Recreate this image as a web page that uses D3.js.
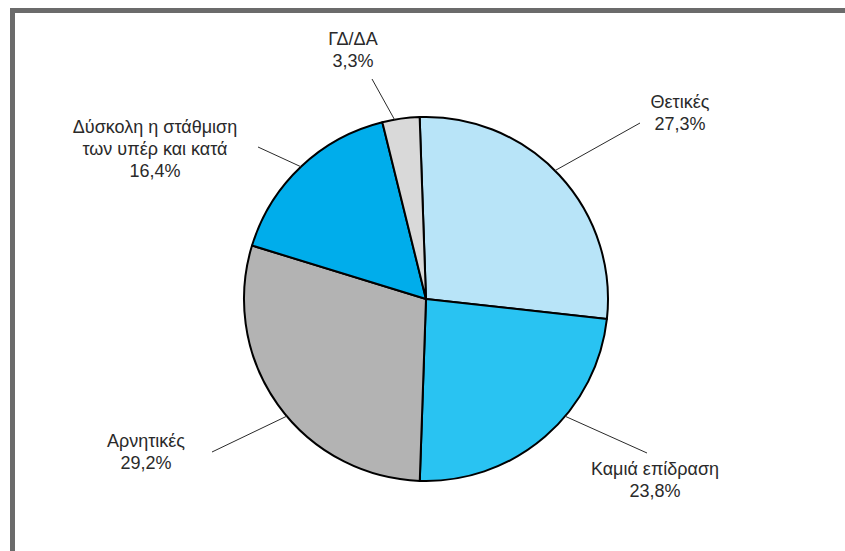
<!DOCTYPE html>
<html>
<head>
<meta charset="utf-8">
<script src="https://cdn.jsdelivr.net/npm/d3@7"></script>
<style>
  html, body { margin: 0; padding: 0; background: #fff; }
  svg { display: block; }
  text { font-family: "Liberation Sans", Arial, sans-serif; fill: #2a2a2a; }
</style>
</head>
<body>
<svg id="chart" width="845" height="551"></svg>
<script>
// ---- data ----
const categories = ["Θετικές", "Καμιά επίδραση", "Αρνητικές", "Δύσκολη η στάθμιση των υπέρ και κατά", "ΓΔ/ΔΑ"];
const labelLines = [["Θετικές"], ["Καμιά επίδραση"], ["Αρνητικές"], ["Δύσκολη η στάθμιση", "των υπέρ και κατά"], ["ΓΔ/ΔΑ"]];
const values = [27.3, 23.8, 29.2, 16.4, 3.3];
const valueLabels = ["27,3%", "23,8%", "29,2%", "16,4%", "3,3%"];

// ---- layout / style ----
const colors = ["#b8e4f8", "#29c3f2", "#b3b3b3", "#00adeb", "#d9d9d9"];
const W = 845, H = 551;
const cx = 426, cy = 299, R = 182;
const startDeg = -2.0;
// label anchor (center x, first baseline y) and leader-line end
const labelAnchor = [[680, 108], [655, 475], [146, 447], [155, 133], [353, 45]];
const leaderEnd = [[640, 123], [647, 453], [212, 452], [258, 147], [372, 79]];
const leaderShiftDeg = [-2, -9, -4.6, 0, -2];
const lineGap = 22;

const svg = d3.select("#chart");

// frame
svg.append("rect").attr("x", 10).attr("y", 8).attr("width", W - 10).attr("height", 5).attr("fill", "#6b6b6b");
svg.append("rect").attr("x", 10).attr("y", 8).attr("width", 5).attr("height", H - 8).attr("fill", "#6b6b6b");

const s0 = startDeg * Math.PI / 180;
const pie = d3.pie().sort(null).value(d => d).startAngle(s0).endAngle(s0 + 2 * Math.PI);
const arcs = pie(values);
const arc = d3.arc().innerRadius(0).outerRadius(R);

const g = svg.append("g").attr("transform", `translate(${cx},${cy})`);
g.selectAll("path.slice").data(arcs).enter().append("path")
  .attr("class", "slice")
  .attr("d", arc)
  .attr("fill", (d, i) => colors[i])
  .attr("stroke", "#000")
  .attr("stroke-width", 2)
  .attr("stroke-linejoin", "round");

// leader lines
arcs.forEach((d, i) => {
  const a = (d.startAngle + d.endAngle) / 2 + leaderShiftDeg[i] * Math.PI / 180;
  const x0 = cx + Math.sin(a) * R, y0 = cy - Math.cos(a) * R;
  svg.append("line")
    .attr("x1", x0).attr("y1", y0)
    .attr("x2", leaderEnd[i][0]).attr("y2", leaderEnd[i][1])
    .attr("stroke", "#2a2a2a").attr("stroke-width", 1);
});

// labels
arcs.forEach((d, i) => {
  const lines = labelLines[i].concat([valueLabels[i]]);
  const t = svg.append("text")
    .attr("text-anchor", "middle")
    .attr("font-size", 18);
  lines.forEach((ln, k) => {
    t.append("tspan").attr("x", labelAnchor[i][0]).attr("y", labelAnchor[i][1] + k * lineGap).text(ln);
  });
});
</script>
</body>
</html>
